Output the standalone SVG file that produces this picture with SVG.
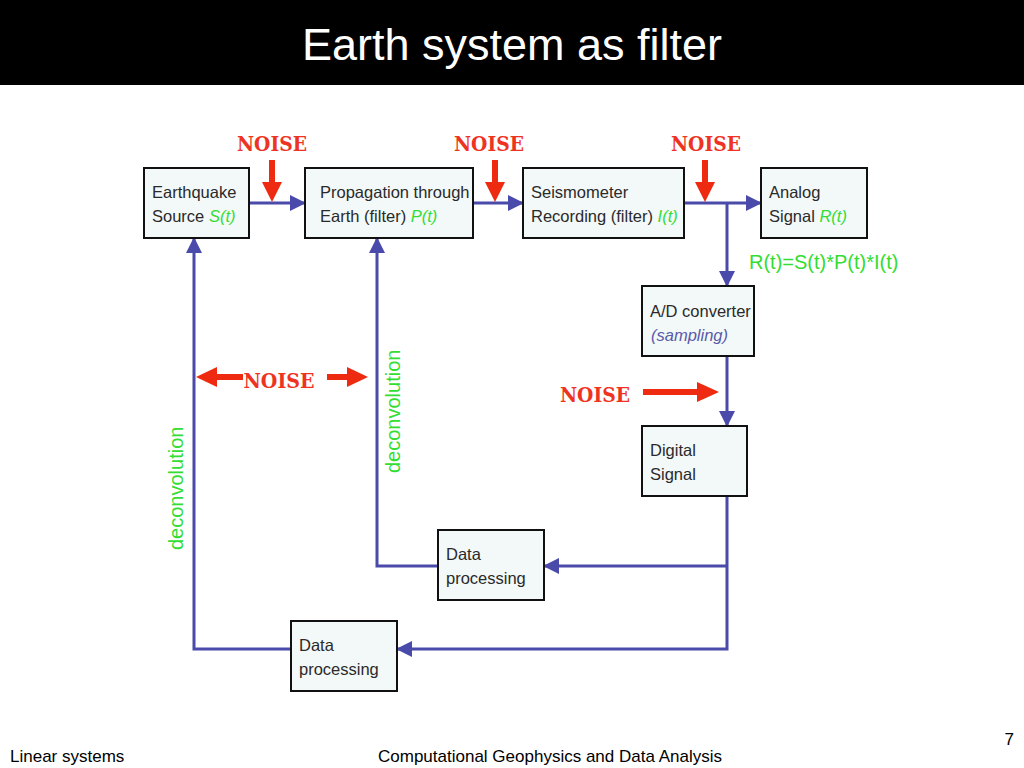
<svg xmlns="http://www.w3.org/2000/svg" width="1024" height="768" viewBox="0 0 1024 768">
<style>
.box{fill:#f3f8f8;stroke:#111;stroke-width:2}
.t{font-family:"Liberation Sans",Arial,sans-serif;font-size:16.5px;fill:#2a2a2a}
.g{fill:#33dd33;font-style:italic}
.s{fill:#5a5aaa;font-style:italic}
.c{fill:none;stroke:#4a4aaa;stroke-width:3}
.noise{font-family:"DejaVu Serif","Liberation Serif",serif;font-size:20px;font-weight:bold;fill:#ee3322}
.ra{fill:#ee2a10}
.green{font-family:"Liberation Sans",Arial,sans-serif;font-size:20px;fill:#33dd33}
.foot{font-family:"Liberation Sans",Arial,sans-serif;font-size:17px;fill:#000}
</style>
<defs>
<marker id="ab" markerUnits="userSpaceOnUse" markerWidth="16" markerHeight="16" refX="15" refY="8" orient="auto">
<path d="M0,0 L16,8 L0,16 Z" fill="#4a4aaa"/>
</marker>
</defs>
<rect x="0" y="0" width="1024" height="768" fill="#fff"/>
<rect x="0" y="0" width="1024" height="85" fill="#000"/>
<text x="512" y="60" text-anchor="middle" font-family="Liberation Sans,Arial,sans-serif" font-size="45" fill="#fff">Earth system as filter</text>

<g id="connectors">
<line class="c" x1="249" y1="203" x2="305" y2="203" marker-end="url(#ab)"/>
<line class="c" x1="473" y1="203" x2="523" y2="203" marker-end="url(#ab)"/>
<line class="c" x1="684" y1="203" x2="761" y2="203" marker-end="url(#ab)"/>
<line class="c" x1="727" y1="203" x2="727" y2="286" marker-end="url(#ab)"/>
<line class="c" x1="727" y1="356" x2="727" y2="426" marker-end="url(#ab)"/>
<polyline class="c" points="727,496 727,649 397,649" marker-end="url(#ab)"/>
<line class="c" x1="727" y1="566" x2="544" y2="566" marker-end="url(#ab)"/>
<polyline class="c" points="438,566 377,566 377,238" marker-end="url(#ab)"/>
<polyline class="c" points="291,649 194,649 194,238" marker-end="url(#ab)"/>
</g>

<g id="earthquake-source">
<rect class="box" x="144" y="168" width="105" height="70"/>
<text class="t" x="152" y="198">Earthquake</text>
<text class="t" x="152" y="222">Source <tspan class="g">S(t)</tspan></text>
</g>
<g id="propagation">
<rect class="box" x="305" y="168" width="168" height="70"/>
<text class="t" x="320" y="198">Propagation through</text>
<text class="t" x="320" y="222">Earth (filter) <tspan class="g">P(t)</tspan></text>
</g>
<g id="seismometer">
<rect class="box" x="523" y="168" width="161" height="70"/>
<text class="t" x="531" y="198">Seismometer</text>
<text class="t" x="531" y="222">Recording (filter) <tspan class="g">I(t)</tspan></text>
</g>
<g id="analog-signal">
<rect class="box" x="761" y="168" width="106" height="70"/>
<text class="t" x="769" y="198">Analog</text>
<text class="t" x="769" y="222">Signal <tspan class="g">R(t)</tspan></text>
</g>
<g id="ad-converter">
<rect class="box" x="642" y="286" width="112" height="70"/>
<text class="t" x="650" y="317">A/D converter</text>
<text class="t s" x="651" y="341">(sampling)</text>
</g>
<g id="digital-signal">
<rect class="box" x="642" y="426" width="105" height="70"/>
<text class="t" x="650" y="456">Digital</text>
<text class="t" x="650" y="480">Signal</text>
</g>
<g id="data-processing-1">
<rect class="box" x="438" y="530" width="106" height="70"/>
<text class="t" x="446" y="560">Data</text>
<text class="t" x="446" y="584">processing</text>
</g>
<g id="data-processing-2">
<rect class="box" x="291" y="621" width="106" height="70"/>
<text class="t" x="299" y="651">Data</text>
<text class="t" x="299" y="675">processing</text>
</g>

<g id="noise">
<text class="noise" x="272" y="151" text-anchor="middle" textLength="70" lengthAdjust="spacingAndGlyphs">NOISE</text>
<rect class="ra" x="269" y="160" width="6" height="24"/>
<path class="ra" d="M262,182 L282,182 L272,202 Z"/>
<text class="noise" x="489" y="151" text-anchor="middle" textLength="70" lengthAdjust="spacingAndGlyphs">NOISE</text>
<rect class="ra" x="492" y="160" width="6" height="24"/>
<path class="ra" d="M485,182 L505,182 L495,202 Z"/>
<text class="noise" x="706" y="151" text-anchor="middle" textLength="70" lengthAdjust="spacingAndGlyphs">NOISE</text>
<rect class="ra" x="702" y="160" width="6" height="24"/>
<path class="ra" d="M695,182 L715,182 L705,202 Z"/>
<text class="noise" x="279" y="388" text-anchor="middle" textLength="71" lengthAdjust="spacingAndGlyphs">NOISE</text>
<rect class="ra" x="215" y="374" width="28" height="6"/>
<path class="ra" d="M217,367 L217,387 L196,377 Z"/>
<rect class="ra" x="327" y="374" width="22" height="6"/>
<path class="ra" d="M347,367 L347,387 L368,377 Z"/>
<text class="noise" x="595" y="402" text-anchor="middle" textLength="70" lengthAdjust="spacingAndGlyphs">NOISE</text>
<rect class="ra" x="643" y="389" width="56" height="6"/>
<path class="ra" d="M697,382 L697,402 L719,392 Z"/>
</g>

<g id="labels">
<text class="green" x="749" y="269">R(t)=S(t)*P(t)*I(t)</text>
<text class="green" transform="translate(183,550) rotate(-90)">deconvolution</text>
<text class="green" transform="translate(400,473) rotate(-90)">deconvolution</text>
</g>

<text class="foot" x="10" y="762">Linear systems</text>
<text class="foot" x="550" y="762" text-anchor="middle">Computational Geophysics and Data Analysis</text>
<text class="foot" x="1014" y="745" text-anchor="end" font-size="14">7</text>
</svg>
